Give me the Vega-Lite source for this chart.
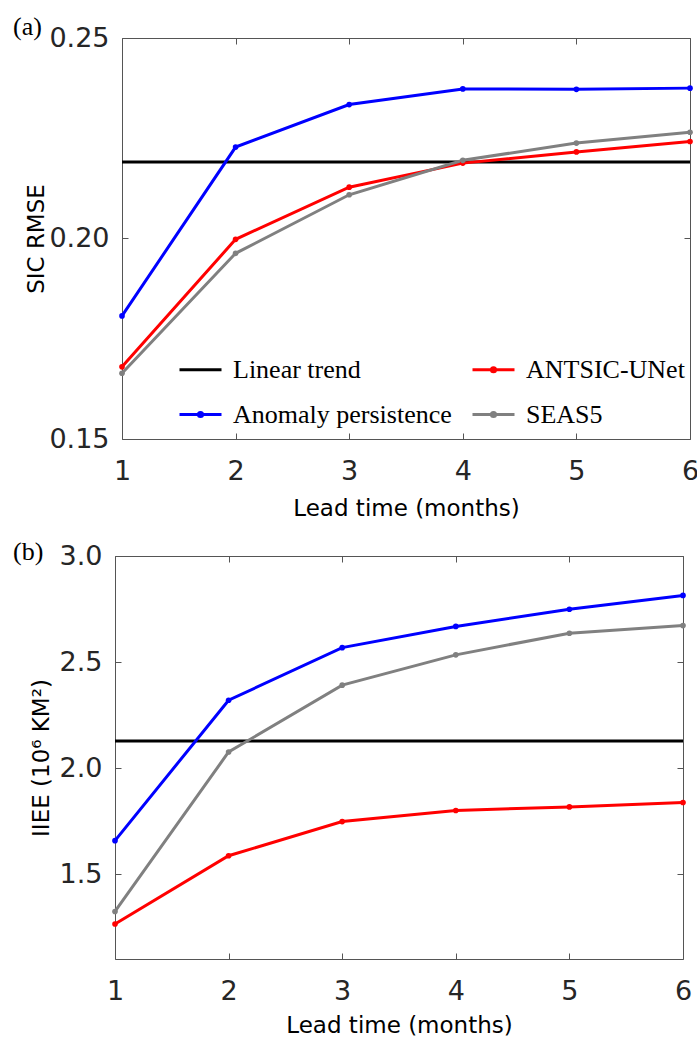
{
  "$schema": "https://vega.github.io/schema/vega-lite/v6.json",
  "padding": {"left": 11, "top": 13, "right": 5, "bottom": 5},
  "background": "white",
  "config": {"font": "DejaVu Sans", "view": {"stroke": null}},
  "datasets": {
    "a": [
      {"lead": 1, "model": "Linear trend", "value": 0.2191},
      {"lead": 2, "model": "Linear trend", "value": 0.2191},
      {"lead": 3, "model": "Linear trend", "value": 0.2191},
      {"lead": 4, "model": "Linear trend", "value": 0.2191},
      {"lead": 5, "model": "Linear trend", "value": 0.2191},
      {"lead": 6, "model": "Linear trend", "value": 0.2191},
      {"lead": 1, "model": "Anomaly persistence", "value": 0.1807},
      {"lead": 2, "model": "Anomaly persistence", "value": 0.2228},
      {"lead": 3, "model": "Anomaly persistence", "value": 0.2334},
      {"lead": 4, "model": "Anomaly persistence", "value": 0.2373},
      {"lead": 5, "model": "Anomaly persistence", "value": 0.2372},
      {"lead": 6, "model": "Anomaly persistence", "value": 0.2375},
      {"lead": 1, "model": "ANTSIC-UNet", "value": 0.168},
      {"lead": 2, "model": "ANTSIC-UNet", "value": 0.1998},
      {"lead": 3, "model": "ANTSIC-UNet", "value": 0.2128},
      {"lead": 4, "model": "ANTSIC-UNet", "value": 0.2188},
      {"lead": 5, "model": "ANTSIC-UNet", "value": 0.2216},
      {"lead": 6, "model": "ANTSIC-UNet", "value": 0.2242},
      {"lead": 1, "model": "SEAS5", "value": 0.1664},
      {"lead": 2, "model": "SEAS5", "value": 0.1963},
      {"lead": 3, "model": "SEAS5", "value": 0.2109},
      {"lead": 4, "model": "SEAS5", "value": 0.2195},
      {"lead": 5, "model": "SEAS5", "value": 0.2238},
      {"lead": 6, "model": "SEAS5", "value": 0.2265}
    ],
    "b": [
      {"lead": 1, "model": "Linear trend", "value": 2.128},
      {"lead": 2, "model": "Linear trend", "value": 2.128},
      {"lead": 3, "model": "Linear trend", "value": 2.128},
      {"lead": 4, "model": "Linear trend", "value": 2.128},
      {"lead": 5, "model": "Linear trend", "value": 2.128},
      {"lead": 6, "model": "Linear trend", "value": 2.128},
      {"lead": 1, "model": "Anomaly persistence", "value": 1.658},
      {"lead": 2, "model": "Anomaly persistence", "value": 2.32},
      {"lead": 3, "model": "Anomaly persistence", "value": 2.568},
      {"lead": 4, "model": "Anomaly persistence", "value": 2.668},
      {"lead": 5, "model": "Anomaly persistence", "value": 2.749},
      {"lead": 6, "model": "Anomaly persistence", "value": 2.814},
      {"lead": 1, "model": "ANTSIC-UNet", "value": 1.265},
      {"lead": 2, "model": "ANTSIC-UNet", "value": 1.587},
      {"lead": 3, "model": "ANTSIC-UNet", "value": 1.748},
      {"lead": 4, "model": "ANTSIC-UNet", "value": 1.8},
      {"lead": 5, "model": "ANTSIC-UNet", "value": 1.817},
      {"lead": 6, "model": "ANTSIC-UNet", "value": 1.838},
      {"lead": 1, "model": "SEAS5", "value": 1.324},
      {"lead": 2, "model": "SEAS5", "value": 2.076},
      {"lead": 3, "model": "SEAS5", "value": 2.391},
      {"lead": 4, "model": "SEAS5", "value": 2.534},
      {"lead": 5, "model": "SEAS5", "value": 2.636},
      {"lead": 6, "model": "SEAS5", "value": 2.672}
    ]
  },
  "spacing": 17,
  "resolve": {"scale": {"color": "independent"}, "legend": {"color": "independent"}},
  "vconcat": [
    {
      "spacing": 0,
      "hconcat": [
        {"width": 1, "height": 1, "data": {"values": []}, "mark": "point", "view": {"stroke": null}},
        {
          "width": 568,
          "height": 401,
          "title": {"text": "(a)", "anchor": "start", "frame": "group", "dx": -109, "offset": -37, "baseline": "alphabetic", "font": "Liberation Serif", "fontSize": 26, "fontWeight": "normal", "color": "#000000"},
          "data": {"name": "a"},
          "view": {"stroke": "#555555", "strokeWidth": 1},
          "encoding": {
            "color": {
              "field": "model", "type": "nominal",
              "scale": {"domain": ["Linear trend", "ANTSIC-UNet", "Anomaly persistence", "SEAS5"], "range": ["#000000", "#ff0000", "#0000ff", "#808080"]},
              "legend": {
                "orient": "none", "legendX": 167, "legendY": 309, "columns": 2, "direction": "horizontal", "title": null,
                "symbolType": "stroke", "symbolSize": 1764, "symbolStrokeWidth": 3,
                "labelFont": "Liberation Serif", "labelFontSize": 26, "labelColor": "#000000", "labelOffset": 10, "labelLimit": 400,
                "columnPadding": 14, "rowPadding": 9, "padding": 0,
                "encode": {"symbols": {"update": {"shape": {"signal": "datum.value === 'Linear trend' ? 'stroke' : 'M-1,0H1M0.1,0A0.1,0.1 0 1,1 -0.1,0A0.1,0.1 0 1,1 0.1,0'"}}}}
              }
            }
          },
          "layer": [
            {
              "mark": {"type": "line", "strokeWidth": 3},
              "encoding": {
                "x": {"field": "lead", "type": "quantitative", "scale": {"domain": [1, 6], "nice": false, "zero": false},
                  "axis": {"orient": "bottom", "values": [1, 2, 3, 4, 5, 6], "format": "d", "title": "Lead time (months)", "titleFontSize": 23, "titleFontWeight": "normal", "titleColor": "#000000", "titleBaseline": "alphabetic", "titleY": 76, "labelFontSize": 27, "labelColor": "#262626", "labelPadding": 25, "labelFlush": false, "tickSize": -6, "tickColor": "#555555", "domain": false, "grid": false}},
                "y": {"field": "value", "type": "quantitative", "scale": {"domain": [0.15, 0.25], "nice": false, "zero": false},
                  "axis": {"orient": "left", "values": [0.15, 0.2, 0.25], "format": ".2f", "title": "SIC RMSE", "titleFontSize": 23, "titleFontWeight": "normal", "titleColor": "#000000", "titleBaseline": "alphabetic", "titleX": -79, "labelFontSize": 27, "labelColor": "#262626", "labelPadding": 19, "labelFlush": false, "tickSize": -6, "tickColor": "#555555", "domain": false, "grid": false}}
              }
            },
            {
              "transform": [{"filter": "datum.model !== 'Linear trend'"}],
              "mark": {"type": "point", "filled": true, "size": 32, "opacity": 1},
              "encoding": {
                "x": {"field": "lead", "type": "quantitative", "scale": {"domain": [1, 6], "nice": false, "zero": false},
                  "axis": {"orient": "top", "values": [1, 2, 3, 4, 5, 6], "labels": false, "title": null, "tickSize": -6, "tickColor": "#555555", "domain": false, "grid": false, "minExtent": 0, "maxExtent": 0}},
                "y": {"field": "value", "type": "quantitative", "scale": {"domain": [0.15, 0.25], "nice": false, "zero": false},
                  "axis": {"orient": "right", "values": [0.15, 0.2, 0.25], "labels": false, "title": null, "tickSize": -6, "tickColor": "#555555", "domain": false, "grid": false, "minExtent": 0, "maxExtent": 0}}
              }
            }
          ],
          "resolve": {"axis": {"x": "independent", "y": "independent"}}
        }
      ]
    },
    {
      "spacing": 0,
      "hconcat": [
        {"width": 1, "height": 1, "data": {"values": []}, "mark": "point", "view": {"stroke": null}},
        {
          "width": 568,
          "height": 403,
          "title": {"text": "(b)", "anchor": "start", "frame": "group", "dx": -102, "offset": -44, "baseline": "alphabetic", "font": "Liberation Serif", "fontSize": 26, "fontWeight": "normal", "color": "#000000"},
          "data": {"name": "b"},
          "view": {"stroke": "#555555", "strokeWidth": 1},
          "encoding": {
            "color": {
              "field": "model", "type": "nominal",
              "scale": {"domain": ["Linear trend", "ANTSIC-UNet", "Anomaly persistence", "SEAS5"], "range": ["#000000", "#ff0000", "#0000ff", "#808080"]},
              "legend": null
            }
          },
          "layer": [
            {
              "mark": {"type": "line", "strokeWidth": 3},
              "encoding": {
                "x": {"field": "lead", "type": "quantitative", "scale": {"domain": [1, 6], "nice": false, "zero": false},
                  "axis": {"orient": "bottom", "values": [1, 2, 3, 4, 5, 6], "format": "d", "title": "Lead time (months)", "titleFontSize": 23, "titleFontWeight": "normal", "titleColor": "#000000", "titleBaseline": "alphabetic", "titleY": 73, "labelFontSize": 27, "labelColor": "#262626", "labelPadding": 25, "labelFlush": false, "tickSize": -6, "tickColor": "#555555", "domain": false, "grid": false}},
                "y": {"field": "value", "type": "quantitative", "scale": {"domain": [1.1, 3.0], "nice": false, "zero": false},
                  "axis": {"orient": "left", "values": [1.5, 2, 2.5, 3], "format": ".1f", "title": "IIEE (10⁶ KM²)", "titleFontSize": 23, "titleFontWeight": "normal", "titleColor": "#000000", "titleBaseline": "alphabetic", "titleX": -67, "labelFontSize": 27, "labelColor": "#262626", "labelPadding": 19, "labelFlush": false, "tickSize": -6, "tickColor": "#555555", "domain": false, "grid": false}}
              }
            },
            {
              "transform": [{"filter": "datum.model !== 'Linear trend'"}],
              "mark": {"type": "point", "filled": true, "size": 32, "opacity": 1},
              "encoding": {
                "x": {"field": "lead", "type": "quantitative", "scale": {"domain": [1, 6], "nice": false, "zero": false},
                  "axis": {"orient": "top", "values": [1, 2, 3, 4, 5, 6], "labels": false, "title": null, "tickSize": -6, "tickColor": "#555555", "domain": false, "grid": false, "minExtent": 0, "maxExtent": 0}},
                "y": {"field": "value", "type": "quantitative", "scale": {"domain": [1.1, 3.0], "nice": false, "zero": false},
                  "axis": {"orient": "right", "values": [1.5, 2, 2.5, 3], "labels": false, "title": null, "tickSize": -6, "tickColor": "#555555", "domain": false, "grid": false, "minExtent": 0, "maxExtent": 0}}
              }
            }
          ],
          "resolve": {"axis": {"x": "independent", "y": "independent"}}
        }
      ]
    }
  ]
}
